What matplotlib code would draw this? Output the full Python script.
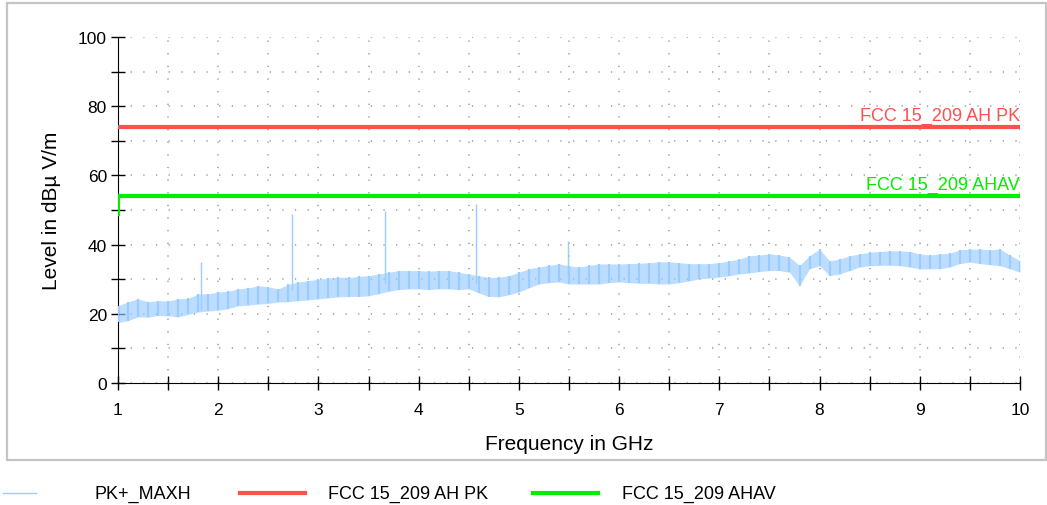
"""
EMI scan 1-10 GHz: PK+ max-hold trace against FCC 15.209 limits
"""

import numpy as np
import matplotlib.pyplot as plt
from matplotlib.ticker import MultipleLocator, FuncFormatter
from matplotlib.lines import Line2D
from matplotlib.patches import Rectangle

plt.rcParams['font.family'] = ['Liberation Sans', 'DejaVu Sans']

# ---- data ----
FREQ_GHZ = [1.0, 1.1, 1.2, 1.3, 1.4, 1.5, 1.6, 1.7, 1.8, 1.9,
            2.0, 2.1, 2.2, 2.3, 2.4, 2.5, 2.6, 2.7, 2.8, 2.9,
            3.0, 3.1, 3.2, 3.3, 3.4, 3.5, 3.6, 3.7, 3.8, 3.9,
            4.0, 4.1, 4.2, 4.3, 4.4, 4.5, 4.6, 4.7, 4.8, 4.9,
            5.0, 5.1, 5.2, 5.3, 5.4, 5.5, 5.6, 5.7, 5.8, 5.9,
            6.0, 6.1, 6.2, 6.3, 6.4, 6.5, 6.6, 6.7, 6.8, 6.9,
            7.0, 7.1, 7.2, 7.3, 7.4, 7.5, 7.6, 7.7, 7.8, 7.9,
            8.0, 8.1, 8.2, 8.3, 8.4, 8.5, 8.6, 8.7, 8.8, 8.9,
            9.0, 9.1, 9.2, 9.3, 9.4, 9.5, 9.6, 9.7, 9.8, 9.9,
            10.0]

# bottom / top of the max-hold trace swing
TRACE_LO = [17.5, 18.0, 19.1, 19.0, 19.5, 19.4, 19.1, 19.8, 20.5, 20.8,
            21.0, 21.5, 22.3, 22.5, 22.8, 23.0, 23.4, 23.5, 23.8, 24.0,
            24.3, 24.6, 24.9, 25.0, 25.0, 25.2, 25.8, 26.5, 27.0, 27.2,
            27.2, 27.0, 27.2, 27.2, 27.0, 27.2, 26.0, 25.0, 24.9, 25.5,
            26.3, 27.5, 28.6, 29.0, 29.2, 28.6, 28.6, 28.6, 28.6, 29.0,
            29.2, 29.0, 28.8, 28.8, 28.6, 28.6, 29.0, 29.5, 30.1, 30.3,
            30.6, 31.0, 31.5, 31.8, 32.2, 32.5, 32.5, 32.0, 28.1, 33.0,
            33.9, 31.0, 31.5, 32.5, 33.5, 33.9, 34.0, 34.0, 33.9, 33.5,
            33.0, 33.0, 33.0, 33.5, 34.5, 34.9, 34.5, 34.2, 33.9, 33.0,
            32.0]
TRACE_HI = [22.3, 23.5, 24.3, 23.5, 23.8, 23.7, 24.3, 24.5, 25.7, 25.8,
            26.3, 26.5, 27.2, 27.5, 28.1, 27.8, 27.2, 28.5, 29.2, 29.6,
            30.0, 30.3, 30.6, 30.5, 30.8, 31.0, 31.5, 32.0, 32.5, 32.5,
            32.5, 32.3, 32.5, 32.5, 32.0, 31.5, 31.0, 30.5, 30.6, 31.0,
            32.0, 33.0, 33.5, 34.0, 34.4, 33.9, 33.5, 34.0, 34.4, 34.4,
            34.4, 34.5, 34.6, 34.8, 35.0, 35.0, 34.8, 34.5, 34.5, 34.5,
            34.8, 35.3, 35.8, 36.8, 37.0, 37.3, 37.0, 36.4, 34.0, 36.8,
            38.7, 35.3, 35.8, 36.8, 37.3, 37.8, 38.0, 38.2, 38.2, 38.0,
            37.3, 37.0, 37.3, 37.5, 38.5, 38.7, 38.7, 38.5, 38.7, 37.0,
            35.3]

# narrow-band spikes
SPIKE_FREQ = [1.83, 2.74, 3.66, 4.57, 5.49]
SPIKE_LEVEL = [35.0, 48.8, 49.8, 51.7, 41.1]
SPIKE_BASE = [21.0, 27.0, 29.0, 29.0, 31.0]

# limit lines
PK_FREQ = [1.0, 10.0]
PK_LEVEL = [74.0, 74.0]
AV_FREQ = [1.0, 1.0, 10.0]
AV_LEVEL = [48.3, 54.0, 54.0]

TRACE_NAME = "PK+_MAXH"
PK_NAME = "FCC 15_209 AH PK"
AV_NAME = "FCC 15_209 AHAV"

TRACE_COLOR = "#99ccff"
PK_COLOR = "#ff5050"
AV_COLOR = "#00ee00"

W, H = 1047, 506
fig = plt.figure(figsize=(W / 100, H / 100), dpi=100)
ax = fig.add_axes([118 / W, 1 - 384 / H, (1020 - 118) / W, (384 - 38) / H])

# outer gray frame
fig.add_artist(Rectangle((7 / W, 1 - 461 / H), (1046 - 7) / W, (461 - 4) / H,
                         transform=fig.transFigure, fill=False,
                         edgecolor="#c4c4c4", linewidth=1.6))

# ---- trace ----
ax.fill_between(FREQ_GHZ, TRACE_LO, TRACE_HI, color=TRACE_COLOR,
                alpha=0.65, linewidth=0, zorder=2)
ax.vlines(FREQ_GHZ, TRACE_LO, TRACE_HI, color=TRACE_COLOR,
          linewidth=1.6, zorder=3)
ax.vlines(SPIKE_FREQ, SPIKE_BASE, SPIKE_LEVEL, color=TRACE_COLOR,
          linewidth=1.0, zorder=3)

# ---- limits ----
ax.plot(PK_FREQ, PK_LEVEL, color=PK_COLOR, linewidth=3, zorder=4,
        solid_capstyle="butt")
ax.plot(AV_FREQ, AV_LEVEL, color=AV_COLOR, linewidth=3, zorder=4,
        solid_capstyle="butt")
ax.text(PK_FREQ[-1], PK_LEVEL[-1] + 0.9, PK_NAME, color=PK_COLOR,
        fontsize=13, ha="right", va="bottom")
ax.text(AV_FREQ[-1], AV_LEVEL[-1] + 0.9, AV_NAME, color=AV_COLOR,
        fontsize=13, ha="right", va="bottom")

# ---- axes ----
ax.set_xlim(1, 10)
ax.set_ylim(0, 100)
ax.xaxis.set_major_locator(MultipleLocator(1))
ax.xaxis.set_minor_locator(MultipleLocator(0.5))
ax.yaxis.set_major_locator(MultipleLocator(20))
ax.yaxis.set_minor_locator(MultipleLocator(10))
ax.xaxis.set_major_formatter(FuncFormatter(lambda v, p: f"{v:.0f}"))
ax.tick_params(which="both", direction="inout", length=10, width=1,
               colors="black", labelsize=12.5)
ax.tick_params(axis="x", pad=9)
ax.tick_params(axis="y", pad=3)
for s in ("top", "right"):
    ax.spines[s].set_visible(False)
ax.grid(True, which="both", color="#a8a8a8", linewidth=1.3,
        linestyle=(0, (0.7, 6.3)))
ax.set_axisbelow(True)

ax.set_xlabel("Frequency in GHz", fontsize=15, labelpad=12)
ax.set_ylabel("Level in dBµ V/m", fontsize=15, labelpad=12)

# ---- legend (below the frame) ----
legend_y = 1 - 494 / H
fig.add_artist(Line2D([3 / W, 36 / W], [legend_y, legend_y],
                      transform=fig.transFigure, color=TRACE_COLOR, linewidth=1))
fig.text(95 / W, legend_y, TRACE_NAME, fontsize=13, va="center")
fig.add_artist(Line2D([240 / W, 305 / W], [legend_y, legend_y],
                      transform=fig.transFigure, color=PK_COLOR, linewidth=3))
fig.text(328 / W, legend_y, PK_NAME, fontsize=13, va="center")
fig.add_artist(Line2D([533 / W, 598 / W], [legend_y, legend_y],
                      transform=fig.transFigure, color=AV_COLOR, linewidth=3))
fig.text(622 / W, legend_y, AV_NAME, fontsize=13, va="center")

fig.savefig("out.png", dpi=100)
